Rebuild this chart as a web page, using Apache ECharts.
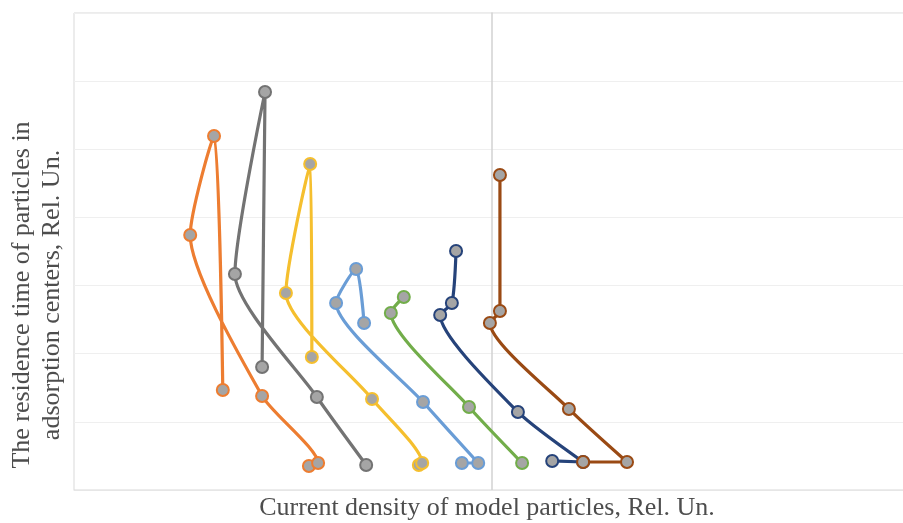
<!DOCTYPE html>
<html>
<head>
<meta charset="utf-8">
<script src="https://cdn.jsdelivr.net/npm/echarts@6/dist/echarts.min.js"></script>
<style>html,body{margin:0;padding:0;background:#fff}#c{width:903px;height:523px}</style>
</head>
<body>
<div id="c"></div>
<script>
// Data (x: current density, y: residence time, relative units)
const seriesNames = ['S1', 'S2', 'S3', 'S4', 'S5', 'S6', 'S7'];
const colors = ['#ED7D31', '#737373', '#F5BF2E', '#6A9DD6', '#72AD4A', '#26437A', '#9A4A14'];
const s1 = [[-0.438, 0.352], [-0.416, 0.396], [-0.550, 1.380], [-0.722, 3.742], [-0.665, 5.195], [-0.644, 1.468]];
const s2 = [[-0.301, 0.367], [-0.419, 1.365], [-0.615, 3.170], [-0.543, 5.841], [-0.550, 1.805]];
const s3 = [[-0.175, 0.367], [-0.167, 0.396], [-0.287, 1.335], [-0.493, 2.891], [-0.435, 4.784], [-0.431, 1.952]];
const s4 = [[-0.072, 0.396], [-0.033, 0.396], [-0.165, 1.291], [-0.373, 2.744], [-0.325, 3.243], [-0.306, 2.451]];
const s5 = [[0.072, 0.396], [-0.055, 1.218], [-0.242, 2.598], [-0.211, 2.832]];
const s6 = [[0.144, 0.426], [0.218, 0.411], [0.062, 1.145], [-0.124, 2.568], [-0.096, 2.744], [-0.086, 3.508]];
const s7 = [[0.218, 0.411], [0.323, 0.411], [0.184, 1.189], [-0.005, 2.451], [0.019, 2.627], [0.019, 4.623]];
const allData = [s1, s2, s3, s4, s5, s6, s7];
const xTitle = 'Current density of model particles, Rel. Un.';
const yTitle1 = 'The residence time of particles in';
const yTitle2 = 'adsorption centers, Rel. Un.';

const chart = echarts.init(document.getElementById('c'), null, {renderer: 'canvas'});
const font = '"Liberation Serif", "Times New Roman", serif';
chart.setOption({
  animation: false,
  grid: {left: 74, top: 13, width: 836, height: 477, outerBoundsMode: 'none', containLabel: false,
         show: true, borderColor: '#d9d9d9', borderWidth: 1, backgroundColor: 'transparent'},
  xAxis: {
    type: 'value', min: -1, max: 1, interval: 0.5,
    axisLine: {show: true, onZero: false, lineStyle: {color: '#e6e6e6', width: 1}},
    axisTick: {show: false}, axisLabel: {show: false}, splitLine: {show: false}
  },
  yAxis: {
    type: 'value', min: 0, max: 7, interval: 1,
    axisLine: {show: true, onZero: true, lineStyle: {color: '#d2d2d2', width: 1.5}},
    axisTick: {show: false}, axisLabel: {show: false},
    splitLine: {show: true, lineStyle: {color: '#efefef', width: 1}}
  },
  graphic: [
    {type: 'text', x: 487, y: 508, style: {text: xTitle, font: '26px ' + font, fill: '#4d4d4d', textAlign: 'center', textVerticalAlign: 'middle'}},
    {type: 'text', x: 22, y: 295, rotation: Math.PI / 2, style: {text: yTitle1, font: '26px ' + font, fill: '#4d4d4d', textAlign: 'center', textVerticalAlign: 'middle'}},
    {type: 'text', x: 52, y: 295, rotation: Math.PI / 2, style: {text: yTitle2, font: '26px ' + font, fill: '#4d4d4d', textAlign: 'center', textVerticalAlign: 'middle'}}
  ],
  series: allData.map((d, i) => ({
    name: seriesNames[i], type: 'line', data: d, smooth: 0.22,
    symbol: 'circle', symbolSize: 12,
    lineStyle: {color: colors[i], width: 3.2},
    itemStyle: {color: '#A5A5A5', borderColor: colors[i], borderWidth: 2}
  }))
});
</script>
</body>
</html>
